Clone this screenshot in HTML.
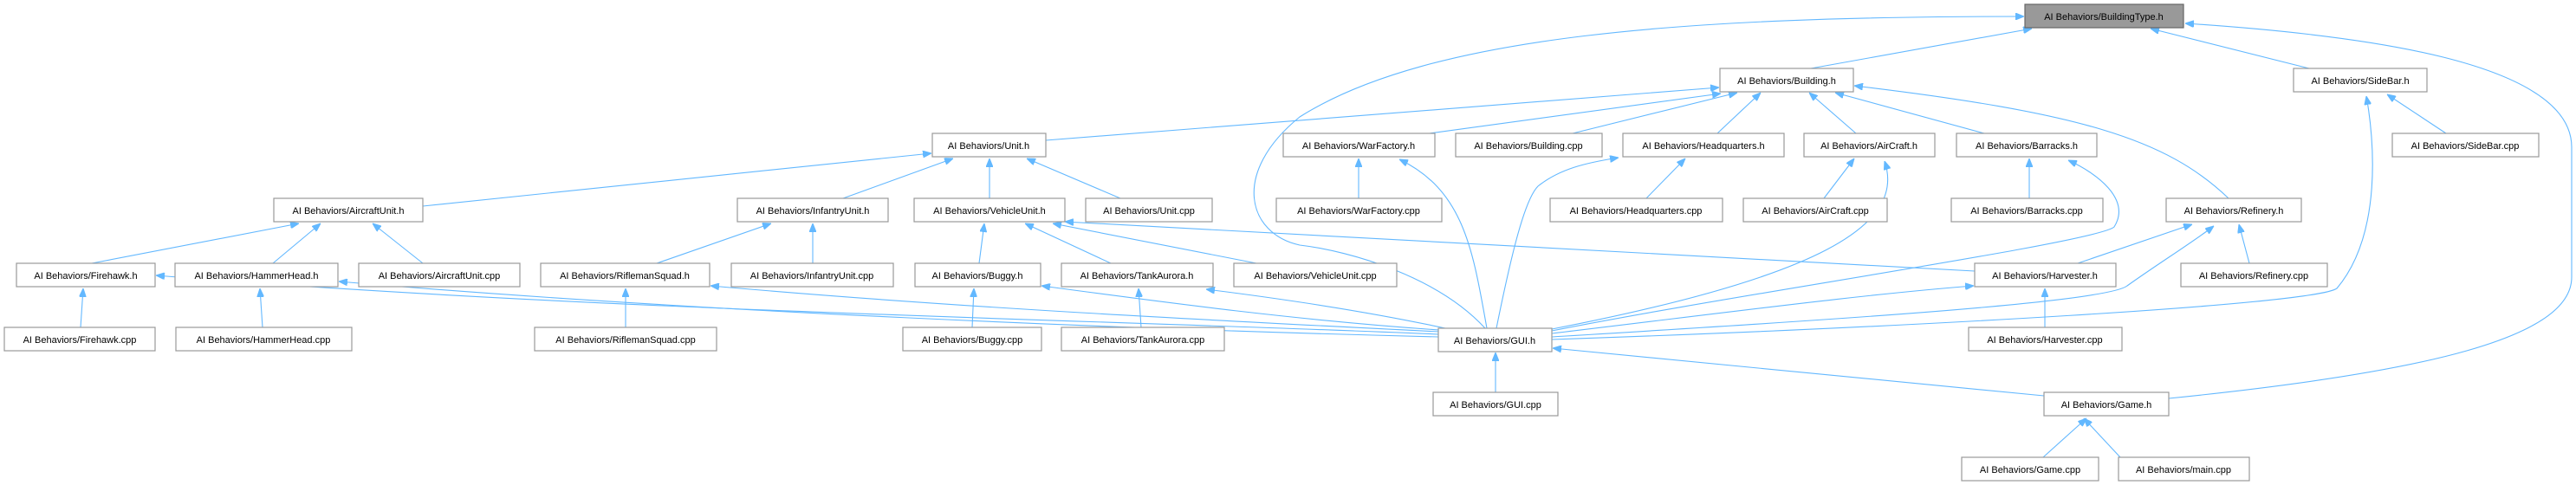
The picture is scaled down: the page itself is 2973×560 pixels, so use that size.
<!DOCTYPE html>
<html><head><meta charset="utf-8"><style>
html,body{margin:0;padding:0;background:#fff;}
svg{display:block;}
text{font-family:"Liberation Sans",Arial,sans-serif;font-size:11px;fill:#000;text-anchor:middle;}
.n{fill:#fff;stroke:#999;stroke-width:1.2;}
.e{fill:none;stroke:#63b8ff;stroke-width:1.1;}
</style></head><body>
<svg width="2973" height="560" viewBox="0 0 2973 560" xmlns="http://www.w3.org/2000/svg">
<defs>
<marker id="a" viewBox="0 0 10 8" refX="10" refY="4" markerWidth="10" markerHeight="8" markerUnits="userSpaceOnUse" orient="auto">
<path d="M0,0 L10,4 L0,8 z" fill="#63b8ff" stroke="#63b8ff"/>
</marker>
</defs>
<g class="e">
<path d="M2090,79 L2345,33" marker-end="url(#a)"/>
<path d="M2665,79 L2482,33" marker-end="url(#a)"/>
<path d="M2503,460 C2800,430 2968,390 2968,320 L2968,170 C2968,70 2720,40 2522,27" marker-end="url(#a)"/>
<path d="M1714,379 C1660,320 1560,290 1500,283 C1440,270 1420,200 1500,135 C1650,40 1950,19 2336,19" marker-end="url(#a)"/>
<path d="M1207,162 L1984,101" marker-end="url(#a)"/>
<path d="M1650,154 L1986,108" marker-end="url(#a)"/>
<path d="M1815,154 L2005,107" marker-end="url(#a)"/>
<path d="M1982,154 L2032,107" marker-end="url(#a)"/>
<path d="M2142,154 L2088,107" marker-end="url(#a)"/>
<path d="M2290,154 L2118,107" marker-end="url(#a)"/>
<path d="M2572,229 C2500,160 2400,130 2140,99" marker-end="url(#a)"/>
<path d="M488,238 L1075,177" marker-end="url(#a)"/>
<path d="M973,229 L1100,183" marker-end="url(#a)"/>
<path d="M1142,229 L1142,183" marker-end="url(#a)"/>
<path d="M1293,229 L1185,183" marker-end="url(#a)"/>
<path d="M106,304 L345,258" marker-end="url(#a)"/>
<path d="M315,304 L370,258" marker-end="url(#a)"/>
<path d="M488,304 L430,258" marker-end="url(#a)"/>
<path d="M93,378 L96,333" marker-end="url(#a)"/>
<path d="M303,378 L300,333" marker-end="url(#a)"/>
<path d="M758,304 L890,258" marker-end="url(#a)"/>
<path d="M938,304 L938,258" marker-end="url(#a)"/>
<path d="M722,378 L722,333" marker-end="url(#a)"/>
<path d="M1130,304 L1136,258" marker-end="url(#a)"/>
<path d="M1282,304 L1183,258" marker-end="url(#a)"/>
<path d="M1450,304 L1215,258" marker-end="url(#a)"/>
<path d="M2279,313 L1229,256" marker-end="url(#a)"/>
<path d="M1122,378 L1124,333" marker-end="url(#a)"/>
<path d="M1317,378 L1314,333" marker-end="url(#a)"/>
<path d="M1568,229 L1568,183" marker-end="url(#a)"/>
<path d="M1900,229 L1945,183" marker-end="url(#a)"/>
<path d="M2105,229 L2140,183" marker-end="url(#a)"/>
<path d="M2342,229 L2342,183" marker-end="url(#a)"/>
<path d="M2823,154 L2755,109" marker-end="url(#a)"/>
<path d="M2398,304 L2530,259" marker-end="url(#a)"/>
<path d="M2596,304 L2584,259" marker-end="url(#a)"/>
<path d="M2360,378 L2360,333" marker-end="url(#a)"/>
<path d="M1726,453 L1726,407" marker-end="url(#a)"/>
<path d="M2359,457 L1792,402" marker-end="url(#a)"/>
<path d="M2358,528 L2408,483" marker-end="url(#a)"/>
<path d="M2447,528 L2405,483" marker-end="url(#a)"/>
<path d="M1661,386 C1300,370 700,360 180,318" marker-end="url(#a)"/>
<path d="M1661,389 C1300,380 800,360 391,325" marker-end="url(#a)"/>
<path d="M1661,383 C1400,370 1100,355 820,330" marker-end="url(#a)"/>
<path d="M1661,381 C1500,370 1350,350 1202,330" marker-end="url(#a)"/>
<path d="M1668,379 C1580,360 1480,345 1392,334" marker-end="url(#a)"/>
<path d="M1716,379 C1700,290 1690,220 1615,184" marker-end="url(#a)"/>
<path d="M1727,379 C1745,290 1760,230 1775,215 C1800,195 1830,188 1868,182" marker-end="url(#a)"/>
<path d="M1791,380 C2100,320 2200,260 2175,186" marker-end="url(#a)"/>
<path d="M1791,382 C2000,340 2420,280 2440,262 C2460,230 2420,200 2387,185" marker-end="url(#a)"/>
<path d="M1791,385 C2000,360 2150,340 2278,330" marker-end="url(#a)"/>
<path d="M1791,389 C2100,370 2430,350 2455,330 C2490,305 2530,280 2555,261" marker-end="url(#a)"/>
<path d="M1791,392 C2200,378 2670,352 2697,333 C2750,270 2740,160 2731,111" marker-end="url(#a)"/>
</g>
<g>
<rect x="2337" y="5" width="183" height="27" fill="#999" stroke="#666" stroke-width="1.2"/><text x="2428" y="23">AI Behaviors/BuildingType.h</text>
<rect class="n" x="1985" y="79" width="154" height="27"/><text x="2062" y="97">AI Behaviors/Building.h</text>
<rect class="n" x="2647" y="79" width="154" height="27"/><text x="2724" y="97">AI Behaviors/SideBar.h</text>
<rect class="n" x="1076" y="154" width="131" height="27"/><text x="1141" y="172">AI Behaviors/Unit.h</text>
<rect class="n" x="1481" y="154" width="175" height="27"/><text x="1568" y="172">AI Behaviors/WarFactory.h</text>
<rect class="n" x="1680" y="154" width="169" height="27"/><text x="1764" y="172">AI Behaviors/Building.cpp</text>
<rect class="n" x="1873" y="154" width="186" height="27"/><text x="1966" y="172">AI Behaviors/Headquarters.h</text>
<rect class="n" x="2082" y="154" width="151" height="27"/><text x="2157" y="172">AI Behaviors/AirCraft.h</text>
<rect class="n" x="2258" y="154" width="162" height="27"/><text x="2339" y="172">AI Behaviors/Barracks.h</text>
<rect class="n" x="2761" y="154" width="169" height="27"/><text x="2845" y="172">AI Behaviors/SideBar.cpp</text>
<rect class="n" x="316" y="229" width="172" height="27"/><text x="402" y="247">AI Behaviors/AircraftUnit.h</text>
<rect class="n" x="851" y="229" width="174" height="27"/><text x="938" y="247">AI Behaviors/InfantryUnit.h</text>
<rect class="n" x="1055" y="229" width="174" height="27"/><text x="1142" y="247">AI Behaviors/VehicleUnit.h</text>
<rect class="n" x="1253" y="229" width="146" height="27"/><text x="1326" y="247">AI Behaviors/Unit.cpp</text>
<rect class="n" x="1473" y="229" width="191" height="27"/><text x="1568" y="247">AI Behaviors/WarFactory.cpp</text>
<rect class="n" x="1789" y="229" width="199" height="27"/><text x="1888" y="247">AI Behaviors/Headquarters.cpp</text>
<rect class="n" x="2012" y="229" width="166" height="27"/><text x="2095" y="247">AI Behaviors/AirCraft.cpp</text>
<rect class="n" x="2252" y="229" width="175" height="27"/><text x="2339" y="247">AI Behaviors/Barracks.cpp</text>
<rect class="n" x="2500" y="229" width="156" height="27"/><text x="2578" y="247">AI Behaviors/Refinery.h</text>
<rect class="n" x="19" y="304" width="160" height="27"/><text x="99" y="322">AI Behaviors/Firehawk.h</text>
<rect class="n" x="202" y="304" width="188" height="27"/><text x="296" y="322">AI Behaviors/HammerHead.h</text>
<rect class="n" x="414" y="304" width="186" height="27"/><text x="507" y="322">AI Behaviors/AircraftUnit.cpp</text>
<rect class="n" x="624" y="304" width="195" height="27"/><text x="721" y="322">AI Behaviors/RiflemanSquad.h</text>
<rect class="n" x="844" y="304" width="187" height="27"/><text x="937" y="322">AI Behaviors/InfantryUnit.cpp</text>
<rect class="n" x="1056" y="304" width="145" height="27"/><text x="1128" y="322">AI Behaviors/Buggy.h</text>
<rect class="n" x="1225" y="304" width="175" height="27"/><text x="1312" y="322">AI Behaviors/TankAurora.h</text>
<rect class="n" x="1424" y="304" width="188" height="27"/><text x="1518" y="322">AI Behaviors/VehicleUnit.cpp</text>
<rect class="n" x="2279" y="304" width="163" height="27"/><text x="2360" y="322">AI Behaviors/Harvester.h</text>
<rect class="n" x="2517" y="304" width="169" height="27"/><text x="2601" y="322">AI Behaviors/Refinery.cpp</text>
<rect class="n" x="5" y="378" width="174" height="27"/><text x="92" y="396">AI Behaviors/Firehawk.cpp</text>
<rect class="n" x="203" y="378" width="203" height="27"/><text x="304" y="396">AI Behaviors/HammerHead.cpp</text>
<rect class="n" x="617" y="378" width="210" height="27"/><text x="722" y="396">AI Behaviors/RiflemanSquad.cpp</text>
<rect class="n" x="1042" y="378" width="160" height="27"/><text x="1122" y="396">AI Behaviors/Buggy.cpp</text>
<rect class="n" x="1225" y="378" width="188" height="27"/><text x="1319" y="396">AI Behaviors/TankAurora.cpp</text>
<rect class="n" x="1660" y="379" width="131" height="27"/><text x="1725" y="397">AI Behaviors/GUI.h</text>
<rect class="n" x="2272" y="378" width="177" height="27"/><text x="2360" y="396">AI Behaviors/Harvester.cpp</text>
<rect class="n" x="1654" y="453" width="144" height="27"/><text x="1726" y="471">AI Behaviors/GUI.cpp</text>
<rect class="n" x="2359" y="453" width="144" height="27"/><text x="2431" y="471">AI Behaviors/Game.h</text>
<rect class="n" x="2264" y="528" width="158" height="27"/><text x="2343" y="546">AI Behaviors/Game.cpp</text>
<rect class="n" x="2445" y="528" width="151" height="27"/><text x="2520" y="546">AI Behaviors/main.cpp</text>
</g>
</svg>
</body></html>
